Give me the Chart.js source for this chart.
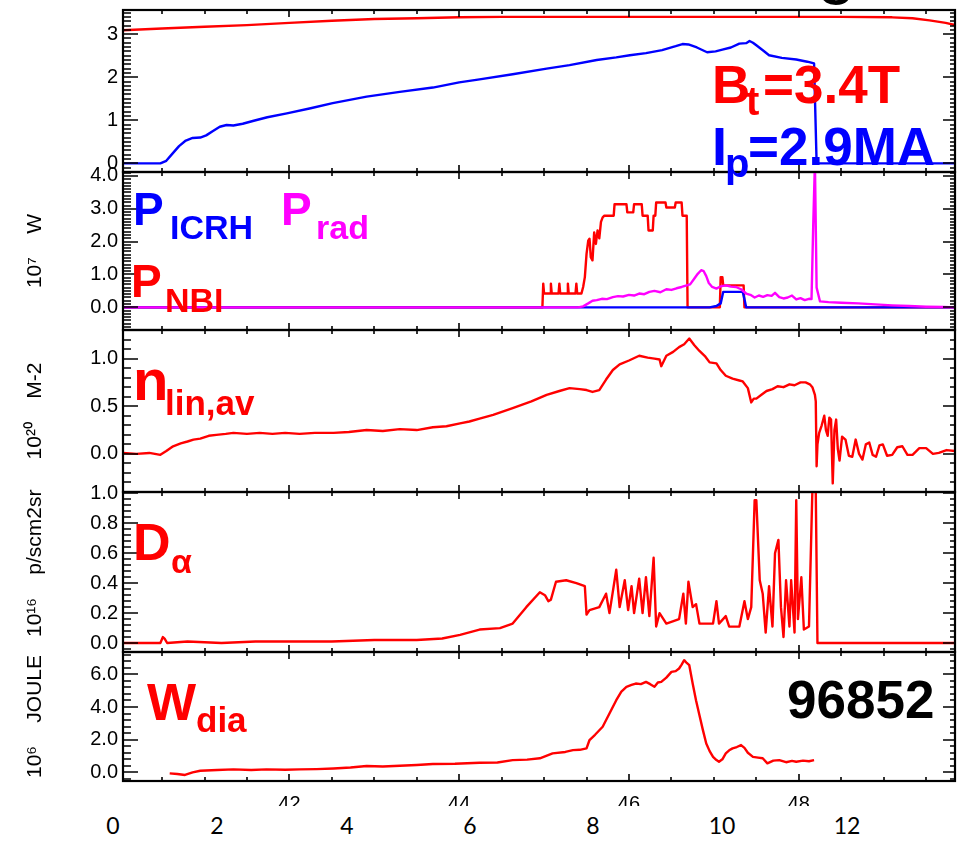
<!DOCTYPE html>
<html>
<head>
<meta charset="utf-8">
<title>Pulse 96852</title>
<script src="https://cdn.jsdelivr.net/npm/chart.js@4.4.1/dist/chart.umd.min.js"></script>
<style>
  html, body { margin: 0; padding: 0; background: #fff; }
  #page { position: relative; width: 961px; height: 842px; overflow: hidden; background: #fff; }
  #page canvas { position: absolute; left: 0; }
  .lbl { position: absolute; font-family: 'Liberation Sans', Arial, sans-serif; font-weight: bold; line-height: 1; white-space: nowrap; z-index: 5; }
  .red { color: #ff0000; }
  .blue { color: #0000ff; }
  .mag { color: #ff00ff; }
  .blk { color: #000; }
  #strip { position: absolute; left: 0; top: 806px; width: 961px; height: 36px; background: #fff; z-index: 4; }
  .tl { position: absolute; top: 814px; font-family: Lato, 'Open Sans', sans-serif; font-size: 23px; line-height: 1; color: #000; transform: translateX(-50%); z-index: 5; }
</style>
</head>
<body>
<div id="page">
  <canvas id="p1"></canvas>
  <canvas id="p2"></canvas>
  <canvas id="p3"></canvas>
  <canvas id="p4"></canvas>
  <canvas id="p5"></canvas>

  <span class="lbl blk" style="font-weight:normal;font-size:70px;left:817px;top:-69px;">g</span>

  <span class="lbl red" style="font-size:53px;left:712px;top:58px;">B</span>
  <span class="lbl red" style="font-size:40px;left:746px;top:81px;">t</span>
  <span class="lbl red" style="font-size:53px;left:763px;top:58px;">=3.4T</span>

  <span class="lbl blue" style="font-size:54px;left:712px;top:119px;">I</span>
  <span class="lbl blue" style="font-size:40px;left:725px;top:143px;">p</span>
  <span class="lbl blue" style="font-size:53px;left:748px;top:120px;">=2.9MA</span>

  <span class="lbl blue" style="font-size:46px;left:133px;top:186px;">P</span>
  <span class="lbl blue" style="font-size:34px;left:170px;top:210px;">ICRH</span>
  <span class="lbl mag" style="font-size:46px;left:281px;top:186px;">P</span>
  <span class="lbl mag" style="font-size:34px;left:316px;top:210px;">rad</span>
  <span class="lbl red" style="font-size:46px;left:131px;top:258px;">P</span>
  <span class="lbl red" style="font-size:34px;left:165px;top:283px;">NBI</span>

  <span class="lbl red" style="font-size:58px;left:133px;top:351px;">n</span>
  <span class="lbl red" style="font-size:35px;left:165px;top:385px;">lin,av</span>

  <span class="lbl red" style="font-size:52px;left:133px;top:516px;">D</span>
  <span class="lbl red" style="font-size:34px;left:171px;top:544px;">α</span>

  <span class="lbl red" style="font-size:52px;left:147px;top:676px;">W</span>
  <span class="lbl red" style="font-size:35px;left:196px;top:702px;">dia</span>

  <span class="lbl blk" style="font-size:53px;left:787px;top:673px;">96852</span>

  <div id="strip"></div>
</div>

<script>
// ---- data (time in s) ----
const btT = [40.04, 40.5, 41.0, 41.5, 42.0, 42.5, 43.0, 43.5, 44.0, 44.5, 45.5, 46.5, 47.5, 48.5, 49.1, 49.34, 49.54, 49.73, 49.84];
const btV = [3.09, 3.13, 3.17, 3.21, 3.26, 3.31, 3.35, 3.37, 3.39, 3.40, 3.40, 3.40, 3.40, 3.40, 3.39, 3.37, 3.32, 3.26, 3.21];

const ipT = [40.04, 40.30, 40.48, 40.55, 40.62, 40.70, 40.78, 40.86, 40.95, 41.02, 41.10, 41.18, 41.26, 41.34, 41.45, 41.58, 41.74, 41.97, 42.25, 42.51, 42.91, 43.30, 43.69, 44.00, 44.24, 44.63, 45.03, 45.30, 45.62, 45.85, 46.01, 46.20, 46.39, 46.55, 46.63, 46.70, 46.80, 46.92, 47.02, 47.10, 47.20, 47.30, 47.38, 47.42, 47.46, 47.50, 47.58, 47.65, 47.80, 47.97, 48.10, 48.18, 48.21, 49.84];
const ipV = [0, 0, 0, 0.06, 0.22, 0.40, 0.53, 0.59, 0.60, 0.65, 0.75, 0.85, 0.89, 0.88, 0.92, 0.99, 1.07, 1.16, 1.28, 1.40, 1.55, 1.66, 1.76, 1.88, 1.95, 2.07, 2.20, 2.28, 2.40, 2.46, 2.51, 2.56, 2.63, 2.72, 2.77, 2.76, 2.69, 2.58, 2.60, 2.64, 2.69, 2.78, 2.79, 2.84, 2.80, 2.74, 2.62, 2.51, 2.45, 2.41, 2.36, 2.32, 0, 0];

const nbiT = [40.04, 44.98, 44.99, 45.00, 45.07, 45.08, 45.09, 45.17, 45.18, 45.19, 45.27, 45.28, 45.29, 45.37, 45.38, 45.39, 45.44, 45.46, 45.48, 45.50, 45.52, 45.535, 45.55, 45.57, 45.59, 45.61, 45.63, 45.65, 45.67, 45.69, 45.71, 45.82, 45.83, 45.97, 45.98, 46.05, 46.06, 46.15, 46.16, 46.22, 46.23, 46.28, 46.29, 46.31, 46.32, 46.43, 46.44, 46.54, 46.55, 46.62, 46.63, 46.68, 46.69, 47.07, 47.08, 47.10, 47.11, 47.35, 47.36, 49.84];
const nbiV = [0, 0, 0.72, 0.42, 0.42, 0.72, 0.42, 0.42, 0.72, 0.42, 0.42, 0.72, 0.42, 0.42, 0.72, 0.42, 0.42, 0.62, 0.92, 1.63, 2.03, 2.09, 1.53, 1.43, 2.28, 1.93, 2.34, 2.10, 2.60, 2.74, 2.79, 2.79, 3.14, 3.14, 2.89, 2.89, 3.14, 3.14, 2.79, 2.79, 2.34, 2.34, 2.79, 2.79, 3.19, 3.19, 3.04, 3.04, 3.19, 3.19, 2.79, 2.79, 0, 0, 0.92, 0.92, 0.67, 0.67, 0, 0];

const icrhT = [40.04, 46.95, 47.03, 47.08, 47.10, 47.11, 47.34, 47.36, 47.38, 49.84];
const icrhV = [0, 0, 0.04, 0.12, 0.35, 0.47, 0.47, 0.25, 0, 0];

const pradT = [40.04, 45.40, 45.46, 45.52, 45.57, 45.62, 45.68, 45.74, 45.81, 45.87, 45.93, 46.00, 46.06, 46.12, 46.18, 46.24, 46.30, 46.37, 46.44, 46.50, 46.56, 46.62, 46.67, 46.72, 46.77, 46.81, 46.85, 46.88, 46.91, 46.94, 46.98, 47.03, 47.08, 47.14, 47.20, 47.26, 47.32, 47.38, 47.43, 47.48, 47.53, 47.58, 47.63, 47.68, 47.72, 47.77, 47.82, 47.87, 47.92, 47.97, 48.02, 48.07, 48.12, 48.15, 48.17, 48.19, 48.21, 48.25, 48.35, 48.50, 48.70, 48.90, 49.10, 49.30, 49.50, 49.70, 49.84];
const pradV = [0, 0, 0.03, 0.12, 0.20, 0.22, 0.26, 0.25, 0.31, 0.34, 0.33, 0.38, 0.36, 0.42, 0.40, 0.47, 0.50, 0.46, 0.55, 0.53, 0.58, 0.62, 0.66, 0.70, 0.88, 1.02, 1.13, 1.10, 0.95, 0.74, 0.62, 0.57, 0.64, 0.67, 0.63, 0.62, 0.55, 0.42, 0.38, 0.30, 0.36, 0.32, 0.37, 0.35, 0.44, 0.31, 0.27, 0.30, 0.36, 0.24, 0.28, 0.22, 0.26, 0.25, 2.5, 4.4, 0.6, 0.18, 0.16, 0.14, 0.12, 0.09, 0.06, 0.04, 0.02, 0.01, 0];

const denT = [40.04, 40.20, 40.35, 40.48, 40.55, 40.63, 40.72, 40.80, 40.87, 40.95, 41.05, 41.14, 41.25, 41.34, 41.50, 41.65, 41.80, 41.95, 42.12, 42.30, 42.52, 42.70, 42.91, 43.10, 43.30, 43.50, 43.69, 43.85, 44.01, 44.12, 44.24, 44.40, 44.63, 44.85, 45.03, 45.18, 45.30, 45.42, 45.50, 45.57, 45.65, 45.73, 45.81, 45.89, 46.00, 46.12, 46.22, 46.30, 46.36, 46.38, 46.44, 46.52, 46.59, 46.65, 46.71, 46.77, 46.83, 46.90, 46.95, 47.03, 47.08, 47.14, 47.22, 47.30, 47.34, 47.40, 47.44, 47.47, 47.50, 47.56, 47.62, 47.69, 47.75, 47.82, 47.89, 47.95, 48.02, 48.08, 48.13, 48.16, 48.19, 48.20, 48.21, 48.22, 48.24, 48.27, 48.30, 48.32, 48.34, 48.36, 48.38, 48.40, 48.42, 48.44, 48.46, 48.48, 48.51, 48.55, 48.59, 48.63, 48.67, 48.71, 48.75, 48.79, 48.83, 48.87, 48.91, 48.95, 48.99, 49.04, 49.10, 49.16, 49.22, 49.28, 49.34, 49.42, 49.50, 49.58, 49.65, 49.74, 49.84];
const denV = [0.01, 0.00, 0.01, -0.01, 0.03, 0.08, 0.11, 0.13, 0.15, 0.16, 0.19, 0.20, 0.21, 0.22, 0.21, 0.22, 0.21, 0.22, 0.21, 0.22, 0.22, 0.23, 0.25, 0.24, 0.26, 0.25, 0.28, 0.29, 0.32, 0.34, 0.37, 0.41, 0.48, 0.55, 0.62, 0.66, 0.69, 0.68, 0.67, 0.65, 0.67, 0.78, 0.88, 0.94, 0.98, 1.03, 1.01, 1.00, 0.99, 0.92, 1.03, 1.07, 1.12, 1.15, 1.21, 1.14, 1.08, 1.02, 0.96, 0.95, 0.88, 0.82, 0.79, 0.77, 0.76, 0.69, 0.54, 0.58, 0.58, 0.62, 0.66, 0.68, 0.71, 0.70, 0.73, 0.72, 0.75, 0.75, 0.73, 0.70, 0.62, 0.55, -0.13, 0.10, 0.22, 0.30, 0.40, 0.25, 0.19, 0.38, 0.36, -0.31, 0.25, 0.36, 0.05, -0.07, 0.18, 0.15, -0.02, -0.03, 0.15, 0.00, -0.06, 0.10, 0.12, -0.01, -0.03, 0.09, 0.10, -0.02, -0.01, 0.07, 0.08, -0.01, -0.01, 0.06, 0.06, 0.00, 0.01, 0.04, 0.03];

const daT = [40.04, 40.30, 40.48, 40.51, 40.53, 40.56, 40.80, 41.20, 41.60, 42.00, 42.50, 43.00, 43.50, 43.80, 44.01, 44.24, 44.48, 44.63, 44.79, 44.95, 45.01, 45.05, 45.08, 45.14, 45.26, 45.38, 45.48, 45.50, 45.535, 45.65, 45.73, 45.77, 45.85, 45.89, 45.95, 45.99, 46.03, 46.06, 46.12, 46.16, 46.20, 46.24, 46.29, 46.32, 46.36, 46.44, 46.59, 46.64, 46.67, 46.70, 46.75, 46.79, 46.83, 46.99, 47.03, 47.06, 47.14, 47.18, 47.30, 47.36, 47.40, 47.44, 47.48, 47.50, 47.54, 47.575, 47.61, 47.65, 47.69, 47.72, 47.76, 47.79, 47.82, 47.85, 47.89, 47.91, 47.95, 47.97, 47.99, 48.03, 48.06, 48.12, 48.16, 48.20, 48.22, 48.60, 49.00, 49.40, 49.84];
const daV = [0.00, 0.00, 0.00, 0.04, 0.03, 0.00, 0.01, 0.00, 0.01, 0.01, 0.01, 0.02, 0.02, 0.03, 0.055, 0.09, 0.10, 0.13, 0.24, 0.34, 0.32, 0.28, 0.29, 0.41, 0.42, 0.40, 0.38, 0.19, 0.22, 0.24, 0.33, 0.20, 0.49, 0.24, 0.42, 0.22, 0.38, 0.20, 0.43, 0.20, 0.44, 0.18, 0.57, 0.11, 0.20, 0.13, 0.16, 0.33, 0.13, 0.41, 0.24, 0.26, 0.13, 0.13, 0.28, 0.13, 0.18, 0.11, 0.11, 0.28, 0.16, 0.24, 0.955, 0.955, 0.42, 0.33, 0.07, 0.38, 0.11, 0.60, 0.69, 0.24, 0.04, 0.42, 0.11, 0.42, 0.07, 0.955, 0.16, 0.44, 0.09, 0.11, 1.02, 1.02, 0.00, 0.00, 0.00, 0.00, 0.00];

const wT = [40.59, 40.68, 40.77, 40.86, 40.95, 41.15, 41.34, 41.55, 41.73, 41.95, 42.12, 42.32, 42.52, 42.72, 42.91, 43.10, 43.30, 43.50, 43.69, 43.95, 44.24, 44.45, 44.63, 44.80, 44.95, 45.10, 45.25, 45.34, 45.42, 45.50, 45.535, 45.60, 45.69, 45.77, 45.85, 45.91, 45.97, 46.03, 46.08, 46.14, 46.20, 46.25, 46.30, 46.34, 46.38, 46.44, 46.50, 46.55, 46.59, 46.62, 46.65, 46.68, 46.71, 46.75, 46.79, 46.83, 46.87, 46.91, 46.95, 46.99, 47.03, 47.06, 47.10, 47.14, 47.18, 47.22, 47.27, 47.32, 47.36, 47.40, 47.46, 47.52, 47.575, 47.63, 47.70, 47.77, 47.85, 47.92, 47.97, 48.05, 48.12, 48.18];
const wV = [-0.06, -0.10, -0.16, 0.00, 0.10, 0.14, 0.18, 0.14, 0.18, 0.16, 0.18, 0.20, 0.24, 0.30, 0.39, 0.36, 0.40, 0.45, 0.51, 0.53, 0.59, 0.60, 0.75, 0.78, 0.86, 1.16, 1.25, 1.36, 1.38, 1.47, 1.98, 2.30, 2.79, 3.60, 4.42, 4.95, 5.24, 5.35, 5.44, 5.40, 5.54, 5.40, 5.24, 5.50, 5.54, 5.80, 6.15, 6.20, 6.36, 6.60, 6.87, 6.70, 6.56, 5.44, 4.40, 3.50, 2.60, 1.77, 1.30, 0.95, 0.75, 0.65, 0.80, 1.16, 1.35, 1.47, 1.55, 1.67, 1.50, 1.20, 0.95, 0.90, 0.86, 0.55, 0.72, 0.75, 0.62, 0.70, 0.65, 0.72, 0.68, 0.75];

// tick labels
const xTicks = [42, 44, 46, 48];
const p1Ticks = [0, 1, 2, 3];
const p2Ticks = [0, 1, 2, 3, 4];
const p3Ticks = [0, 0.5, 1.0];
const p4Ticks = [0, 0.2, 0.4, 0.6, 0.8, 1.0];
const p5Ticks = [0, 2, 4, 6];
const timeLabels = ['0', '2', '4', '6', '8', '10', '12'];

// ---- layout ----
const FONT = "'Liberation Sans', Arial, Helvetica, sans-serif";
const X_MIN = 40.04, X_MAX = 49.84;
const timeLabelX = [113, 217, 347, 470, 593, 722, 847];

function pts(xs, ys) {
  return xs.map((x, i) => ({ x: x, y: ys[i] }));
}

function line(data, color) {
  return { data: data, borderColor: color, borderWidth: 2.4, pointRadius: 0, tension: 0, fill: false, borderJoinStyle: 'round' };
}

// inward ticks on all four sides + box, like the IDL plot
function frameTicks(p) {
  return {
    id: 'frame_' + p.id,
    afterDraw(chart) {
      const ctx = chart.ctx;
      const a = chart.chartArea;
      const x = chart.scales.x, y = chart.scales.y;
      ctx.save();
      ctx.strokeStyle = '#000';
      ctx.lineWidth = 1.6;
      ctx.lineCap = 'butt';
      ctx.beginPath();
      const k0 = Math.ceil(p.yMin / p.minor - 1e-6);
      const k1 = Math.floor(p.yMax / p.minor + 1e-6);
      for (let k = k0; k <= k1; k++) {
        const v = k * p.minor;
        const r = v / p.major;
        const major = Math.abs(r - Math.round(r)) < 1e-6;
        const py = Math.round(y.getPixelForValue(v));
        ctx.moveTo(a.left, py);
        ctx.lineTo(a.left + (major ? 15 : 8), py);
        ctx.moveTo(a.right, py);
        ctx.lineTo(a.right - (major ? 12 : 5), py);
      }
      const j0 = Math.ceil(X_MIN * 2 - 1e-6);
      const j1 = Math.floor(X_MAX * 2 + 1e-6);
      for (let j = j0; j <= j1; j++) {
        const major = j % 4 === 0;
        const px = Math.round(x.getPixelForValue(j / 2));
        ctx.moveTo(px, a.top);
        ctx.lineTo(px, a.top + (major ? 7 : 4));
        ctx.moveTo(px, a.bottom);
        ctx.lineTo(px, a.bottom - (major ? 7 : 4));
      }
      ctx.stroke();
      ctx.lineWidth = 2.2;
      ctx.strokeRect(a.left, a.top, a.right - a.left, a.bottom - a.top);
      ctx.restore();
    }
  };
}

function makePanel(p) {
  const cv = document.getElementById(p.id);
  const h = p.bottom - p.top + p.padTop + p.padBottom;
  const showX = !!p.showX;
  cv.width = 961;
  cv.height = h;
  cv.style.top = (p.top - p.padTop) + 'px';
  cv.style.width = '961px';
  cv.style.height = h + 'px';

  return new Chart(cv.getContext('2d'), {
    type: 'line',
    data: { datasets: p.datasets },
    plugins: [frameTicks(p)],
    options: {
      responsive: false,
      animation: false,
      events: [],
      layout: { padding: { top: p.padTop, bottom: showX ? 0 : p.padBottom, left: 0, right: 6 } },
      plugins: {
        legend: { display: false },
        tooltip: { enabled: false }
      },
      scales: {
        x: {
          type: 'linear', min: X_MIN, max: X_MAX,
          grid: { display: false, drawTicks: false }, border: { display: false },
          afterBuildTicks: s => { s.ticks = xTicks.map(v => ({ value: v })); },
          afterFit: s => { s.height = showX ? p.padBottom : 0; },
          ticks: { display: showX, font: { family: FONT, size: 20 }, color: '#000', padding: 11, maxRotation: 0, autoSkip: false, callback: v => String(v) }
        },
        y: {
          type: 'linear', min: p.yMin, max: p.yMax,
          grid: { display: false, drawTicks: false }, border: { display: false },
          afterBuildTicks: s => { s.ticks = p.ticks.map(v => ({ value: v })); },
          afterFit: s => { s.width = 123; },
          ticks: { font: { family: FONT, size: 20 }, color: '#000', padding: 5, autoSkip: false, callback: v => v.toFixed(p.dec) },
          title: { display: !!p.title, text: p.title, color: '#000', font: { family: FONT, size: 21 }, padding: { top: 23, bottom: 0 } }
        }
      }
    }
  });
}

const panels = [
  { id: 'p1', top: 10, bottom: 172, padTop: 20, padBottom: 20, yMin: -0.2, yMax: 3.56, ticks: p1Ticks, dec: 0, minor: 0.1, major: 1, title: '',
    datasets: [line(pts(btT, btV), '#ff0000'), line(pts(ipT, ipV), '#0000ff')] },
  { id: 'p2', top: 172, bottom: 330, padTop: 20, padBottom: 20, yMin: -0.69, yMax: 4.12, ticks: p2Ticks, dec: 1, minor: 0.1, major: 1, title: '10\u2077    W',
    datasets: [line(pts(pradT, pradV), '#ff00ff'), line(pts(icrhT, icrhV), '#0000ff'), line(pts(nbiT, nbiV), '#ff0000')] },
  { id: 'p3', top: 330, bottom: 492, padTop: 20, padBottom: 20, yMin: -0.40, yMax: 1.30, ticks: p3Ticks, dec: 1, minor: 0.1, major: 0.5, title: '10\u00b2\u2070    M-2',
    datasets: [line(pts(denT, denV), '#ff0000')] },
  { id: 'p4', top: 492, bottom: 652, padTop: 20, padBottom: 20, yMin: -0.06, yMax: 1.01, ticks: p4Ticks, dec: 1, minor: 0.04, major: 0.2, title: '   10\u00b9\u2076    p/scm2sr',
    datasets: [line(pts(daT, daV), '#ff0000')] },
  { id: 'p5', top: 652, bottom: 781, padTop: 60, padBottom: 61, showX: true, yMin: -0.53, yMax: 7.37, ticks: p5Ticks, dec: 1, minor: 0.4, major: 2, title: '10\u2076    JOULE',
    datasets: [line(pts(wT, wV), '#ff0000')] }
];

panels.forEach(makePanel);

// time axis overlay (0 .. 12 s)
const page = document.getElementById('page');
timeLabels.forEach((t, i) => {
  const s = document.createElement('span');
  s.className = 'tl';
  s.style.left = timeLabelX[i] + 'px';
  s.textContent = t;
  page.appendChild(s);
});
</script>
</body>
</html>
